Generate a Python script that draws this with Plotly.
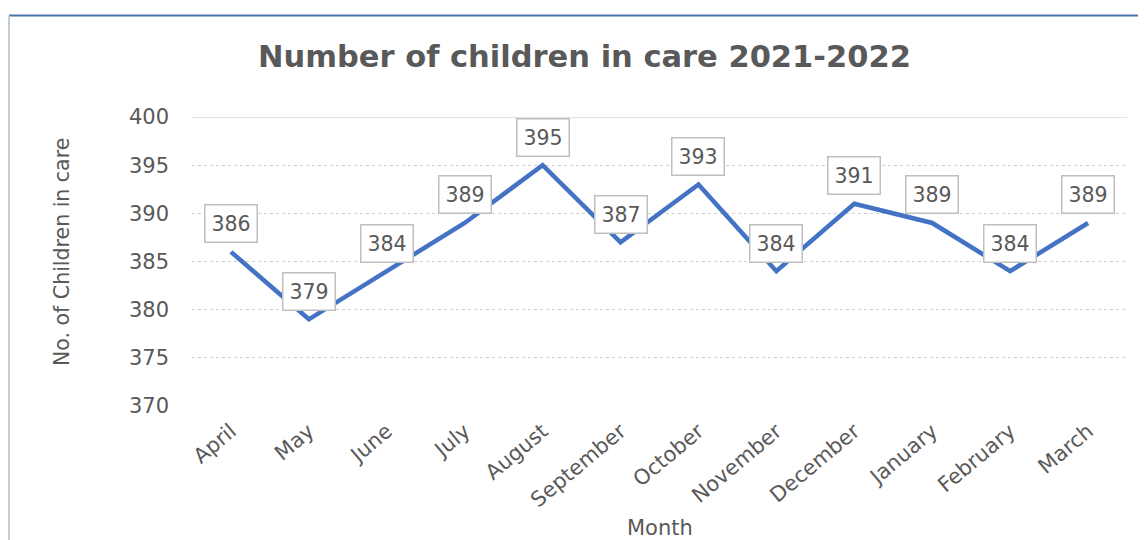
import plotly.graph_objects as go

months = ["April", "May", "June", "July", "August", "September", "October",
          "November", "December", "January", "February", "March"]
children = [386, 379, 384, 389, 395, 387, 393, 384, 391, 389, 384, 389]
y_ticks = [370, 375, 380, 385, 390, 395, 400]

OFF = 8  # page body margin
W, H = 1146 - OFF, 540 - OFF
L, R, T, B = 192 - OFF, 19, 117 - OFF, 134
pw, ph = W - L - R, H - T - B

def px(x):
    return (x - OFF - L) / pw

def py(y):
    return (H - B - (y - OFF)) / ph

FONT = "DejaVu Sans"
GREY = "#595959"

fig = go.Figure()
fig.add_trace(go.Scatter(
    x=months, y=children, mode="lines",
    line=dict(color="#4472C4", width=4.5),
    hoverinfo="skip", showlegend=False,
))

annotations = []
for m, v in zip(months, children):
    annotations.append(dict(
        x=m, y=v, xref="x", yref="y", text=str(v), showarrow=False,
        yshift=28, font=dict(family=FONT, size=20.5, color=GREY),
        bgcolor="white", bordercolor="#bfbfbf", borderwidth=1.5, borderpad=6,
    ))

annotations.append(dict(
    x=px(584), y=py(57), xref="paper", yref="paper",
    text="<b>Number of children in care 2021-2022</b>", showarrow=False,
    font=dict(family=FONT, size=30.5, color=GREY), xanchor="center", yanchor="middle",
))
annotations.append(dict(
    x=px(62), y=py(252), xref="paper", yref="paper",
    text="No. of Children in care", showarrow=False, textangle=-90,
    font=dict(family=FONT, size=20.5, color=GREY), xanchor="center", yanchor="middle",
))
annotations.append(dict(
    x=px(660), y=py(528), xref="paper", yref="paper",
    text="Month", showarrow=False,
    font=dict(family=FONT, size=21, color=GREY), xanchor="center", yanchor="middle",
))

shapes = [
    dict(type="line", xref="paper", yref="paper",
         x0=px(9), x1=px(1150), y0=py(15.5), y1=py(15.5),
         line=dict(color="#4a72a8", width=2)),
    dict(type="line", xref="paper", yref="paper",
         x0=px(9), x1=px(9), y0=py(15.5), y1=py(545),
         line=dict(color="#c3cbd8", width=2)),
    dict(type="line", xref="paper", yref="y",
         x0=0, x1=1, y0=400, y1=400, layer="below",
         line=dict(color="#d9d9d9", width=1.5)),
]

fig.update_layout(
    width=W, height=H,
    margin=dict(l=L, r=R, t=T, b=B),
    paper_bgcolor="white", plot_bgcolor="white",
    annotations=annotations, shapes=shapes,
    xaxis=dict(
        range=[-0.5, len(months) - 0.5], showgrid=False, zeroline=False,
        showline=False, ticks="", tickangle=-40, ticklabelstandoff=8,
        tickfont=dict(family=FONT, size=21, color=GREY),
    ),
    yaxis=dict(
        range=[370, 400], tickvals=y_ticks, showgrid=True,
        gridcolor="#cfcfcf", griddash="dot", gridwidth=1,
        zeroline=False, showline=False, ticks="", ticklabelstandoff=22,
        tickfont=dict(family=FONT, size=21, color=GREY),
    ),
)

fig.write_html("out.html")
